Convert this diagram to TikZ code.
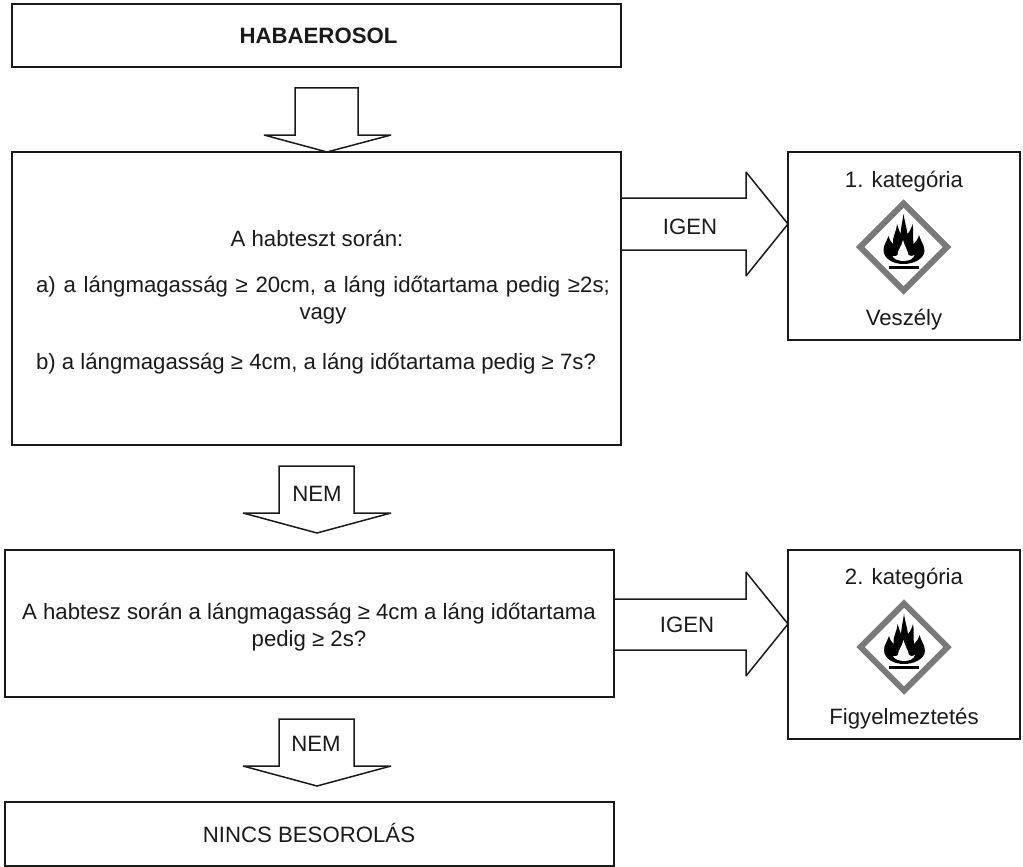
\documentclass[tikz,border=0pt]{standalone}
\usepackage{fontspec}
\setmainfont{Liberation Sans}
\usetikzlibrary{calc}
\definecolor{ink}{HTML}{1A1A1A}
\tikzset{
  panel/.style={draw=ink,line width=1.5pt,inner sep=0pt,outer sep=0pt,text=ink,align=center},
  blockarrow/.style={draw=ink,line width=1.5pt,miter limit=3},
  label/.style={text=ink,inner sep=0pt,align=center},
  pics/hazard/.style={code={
    % lozenge frame
    \draw[draw=black!52,line width=6pt,line join=miter] (0,-43.5) -- (43.5,0) -- (0,43.5) -- (-43.5,0) -- cycle;
    % flame
    \fill[black] (0,17) .. controls (-10,17) and (-20,12) .. (-20,3)
      .. controls (-20,-2) and (-17,-5) .. (-15,-11)
      .. controls (-14.5,-8) and (-13,-6) .. (-10.5,-3)
      .. controls (-11.5,-10) and (-7,-15) .. (-6.5,-23)
      .. controls (-5.5,-20) and (-4.5,-17) .. (-3,-13)
      .. controls (-2.5,-20) and (-1,-26) .. (0,-33)
      .. controls (1,-26) and (3,-20) .. (4,-13)
      .. controls (6,-15) and (8,-19) .. (9,-23)
      .. controls (10.5,-16) and (9,-9) .. (10,-3)
      .. controls (12.5,-5) and (14.5,-8) .. (15.5,-12)
      .. controls (17,-6) and (21,-2) .. (21,4)
      .. controls (20.5,12) and (10,17) .. (0,17) -- cycle;
    % light core of the flame
    \fill[white] (0,14) .. controls (-5,14) and (-10,12) .. (-11,9)
      .. controls (-9.5,9.5) and (-7.5,9.5) .. (-6,8)
      .. controls (-6,3) and (-2,0) .. (-0.5,-7)
      .. controls (1,-1) and (4,3) .. (5,8)
      .. controls (6.5,9.5) and (9,9.5) .. (11,8)
      .. controls (10,12) and (5,14) .. (0,14) -- cycle;
    % ground bar
    \fill[black] (-15,18.5) rectangle (15,22);
  }}
}
\begin{document}
\begin{tikzpicture}[x=1pt,y=-1pt,font=\fontsize{22.2}{27}\selectfont]
\useasboundingbox (0,0) rectangle (1023,867);

% Decision and result boxes
\node[panel,anchor=north west,minimum width=609pt,minimum height=63pt] (start) at (12,4) {\raisebox{0pt}{\hspace{4pt}\textbf{HABAEROSOL}}};
\node[panel,anchor=north west,minimum width=609pt,minimum height=293pt] (test) at (12,152) {};
\node[panel,anchor=north west,minimum width=609pt,minimum height=147pt] (second) at (5,550) {};
\node[panel,anchor=north west,minimum width=232pt,minimum height=188pt] (catone) at (788,152) {};
\node[panel,anchor=north west,minimum width=232pt,minimum height=189pt] (cattwo) at (788,550) {};
\node[panel,anchor=north west,minimum width=609pt,minimum height=64pt] (none) at (5,802) {};

% Downward block arrows
\draw[blockarrow] (295,88) -- (358,88) -- (358,135) -- (391,135) -- (327,152) -- (264,135) -- (295,135) -- cycle;
\draw[blockarrow] (279,466) -- (354,466) -- (354,513) -- (391,513) -- (317,533) -- (243,513) -- (279,513) -- cycle;
\draw[blockarrow] (279,719) -- (354,719) -- (354,766) -- (391,766) -- (317,786) -- (243,766) -- (279,766) -- cycle;

% Rightward block arrows
\draw[blockarrow] (test.east |- 0,198) -- (746,198) -- (746,172) -- (catone.west |- 0,224) -- (746,276) -- (746,250) -- (test.east |- 0,250);
\draw[blockarrow] (second.east |- 0,599) -- (746,599) -- (746,572) -- (cattwo.west |- 0,624) -- (746,676) -- (746,650) -- (second.east |- 0,650);

% Question texts
\node[label] (q1) at (317,238) {A habteszt során:};
\node[label] (q2) at (323,300) {{\spaceskip=7.7pt a) a lángmagasság ≥ 20cm, a láng időtartama pedig ≥2s;}\\vagy};
\node[label] (q3) at (316,364) {b) a lángmagasság ≥ 4cm, a láng időtartama pedig ≥ 7s?};
\node[label] (q4) at (309,627) {A habtesz során a lángmagasság ≥ 4cm a láng időtartama\\pedig ≥ 2s?};
\node[label] (nolabel) at (309,833) {NINCS BESOROLÁS};

% Arrow labels
\node[label] (no1) at (317,494) {NEM};
\node[label] (no2) at (316,744) {NEM};
\node[label] (yes1) at (690,227) {IGEN};
\node[label] (yes2) at (687,625) {IGEN};

% Category contents
\node[label] (c1) at (904,182) {1. kategória};
\pic at (903.5,247) {hazard};
\node[label] (s1) at (904,320) {Veszély};
\node[label] (c2) at (904,579) {2. kategória};
\pic at (904,647) {hazard};
\node[label] (s2) at (904,719) {Figyelmeztetés};
\end{tikzpicture}
\end{document}
